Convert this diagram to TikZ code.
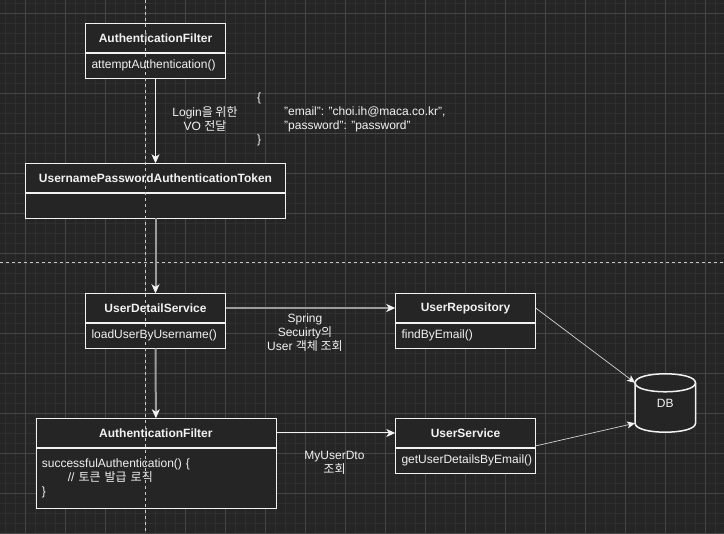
\documentclass[tikz,border=0pt]{standalone}
\usepackage{fontspec}
\setmainfont{Liberation Sans}
\newfontfamily\krfont{Noto Sans CJK KR}
\newcommand{\kr}[1]{{\krfont #1}}
\usetikzlibrary{arrows.meta,calc}

\definecolor{canvas}{HTML}{252525}
\definecolor{minorline}{HTML}{2F2F2F}
\definecolor{majorline}{HTML}{464646}
\definecolor{softline}{HTML}{9C9C9C}
\definecolor{ink}{HTML}{F2F2F2}

\tikzset{
  classtitle/.style={draw=ink, fill=canvas, text=ink, font=\bfseries\fontsize{12pt}{14pt}\selectfont,
    minimum height=29pt, inner sep=0pt, anchor=north west},
  classbody/.style={draw=ink, fill=canvas, text=ink, font=\fontsize{12pt}{14pt}\selectfont,
    align=left, inner xsep=6pt, inner ysep=0pt, anchor=north west},
  edgelabel/.style={text=ink, font=\fontsize{12pt}{14pt}\selectfont, align=center, inner sep=0pt},
  flow/.style={draw=ink, line width=1pt, -{Stealth[length=9pt,width=8pt,inset=2.5pt]}},
  flowsoft/.style={draw=softline, line width=2pt, -{Stealth[length=9pt,width=8pt,inset=2.5pt,color=ink]}},
  flowthin/.style={draw=ink!85!canvas, line width=0.7pt, -{Stealth[length=8pt,width=7pt,inset=2pt,color=ink]}},
  guide/.style={draw=ink!80!canvas, line width=0.8pt, dash pattern=on 3pt off 3pt},
  dbline/.style={draw=ink, fill=canvas, line width=1.5pt}
}

\begin{document}
\begin{tikzpicture}[x=1pt,y=-1pt]
   % Canvas and grid
   \fill[canvas] (0,0) rectangle (724,534);
   \useasboundingbox (0,0) rectangle (724,534);
   \foreach \x in {5,15,...,724} {
       \draw[minorline, line width=0.6pt] (\x,0) -- (\x,534);
   }
   \foreach \y in {3.3,13.3,...,534} {
       \draw[minorline, line width=0.6pt] (0,\y) -- (724,\y);
   }
   \foreach \x in {25,65,...,724} {
       \draw[majorline, line width=0.8pt] (\x,0) -- (\x,534);
   }
   \foreach \y in {13.3,53.3,...,534} {
       \draw[majorline, line width=0.8pt] (0,\y) -- (724,\y);
   }

   % Classes
   \node[classtitle, minimum width=140pt] (attempt) at (85.3,23.3) {AuthenticationFilter};
   \node[classbody, text width=128pt, minimum height=25pt] (attemptbody) at (attempt.south west) {attemptAuthentication()};

   \node[classtitle, minimum width=260pt] (token) at (25.3,163.3) {UsernamePasswordAuthenticationToken};
   \node[classbody, text width=248pt, minimum height=25pt] (tokenbody) at (token.south west) {};

   \node[classtitle, minimum width=140pt] (uds) at (85.3,293.3) {UserDetailService};
   \node[classbody, text width=128pt, minimum height=25.4pt] (udsbody) at (uds.south west) {loadUserByUsername()};

   \node[classtitle, minimum width=240pt] (success) at (35.7,418.3) {AuthenticationFilter};
   \node[classbody, text width=228pt, minimum height=60.7pt] (successbody) at (success.south west)
       {successfulAuthentication() \{\\\hspace*{26pt}// \kr{토큰 발급 로직}\\\}};

   \node[classtitle, minimum width=140pt] (repo) at (395.3,293.3) {UserRepository};
   \node[classbody, text width=128pt, minimum height=25pt] (repobody) at (repo.south west) {findByEmail()};

   \node[classtitle, minimum width=140pt] (usvc) at (395.3,418.3) {UserService};
   \node[classbody, text width=128pt, minimum height=25.4pt] (usvcbody) at (usvc.south west) {getUserDetailsByEmail()};

   % Database
   \node[minimum width=60pt, minimum height=58pt, inner sep=0pt] (db) at (665.3,403) {};
   \draw[dbline] ($(db.north west)+(0,9)$) -- ($(db.south west)+(0,-9)$)
       .. controls +(0,12) and +(0,12) .. ($(db.south east)+(0,-9)$)
       -- ($(db.north east)+(0,9)$)
       .. controls +(0,-12) and +(0,-12) .. cycle;
   \draw[dbline, fill=none] ($(db.north west)+(0,9)$) .. controls +(0,12) and +(0,12) .. ($(db.north east)+(0,9)$);
   \node[edgelabel] (dblabel) at (db.center) {DB};

   % Guide lines
   \draw[guide] (145.3,0) -- (145.3,534);
   \draw[guide] (0,262.3) -- (724,262.3);

   % Labels
   \node[edgelabel] (volabel) at (205,119) {Login\kr{을 위한}\\VO \kr{전달}};
   \node[edgelabel, align=left, anchor=west] (json) at (257,119)
       {\{\\\hspace*{27pt}"email": "choi.ih@maca.co.kr",\\\hspace*{27pt}"password": "password"\\\}};
   \node[edgelabel] (springlabel) at (305,333) {Spring\\Secuirty\kr{의}\\User \kr{객체 조회}};
   \node[edgelabel] (dtolabel) at (334.5,463) {MyUserDto\\\kr{조회}};

   % Connectors
   \draw[flow] (attemptbody.south) -- (token.north);
   \draw[flowsoft] (tokenbody.south) -- (uds.north);
   \draw[flowsoft] (udsbody.south) -- (success.north);
   \draw[flowsoft] (uds.east) -- (repo.west);
   \draw[flow] (success.east) -- (usvc.west);
   \draw[flowthin] (repo.east) -- ($(db.north west)+(0,9)$);
   \draw[flowthin] ($(usvc.north east)!0.5!(usvcbody.south east)$) -- ($(db.south west)+(0,-9)$);
\end{tikzpicture}
\end{document}
